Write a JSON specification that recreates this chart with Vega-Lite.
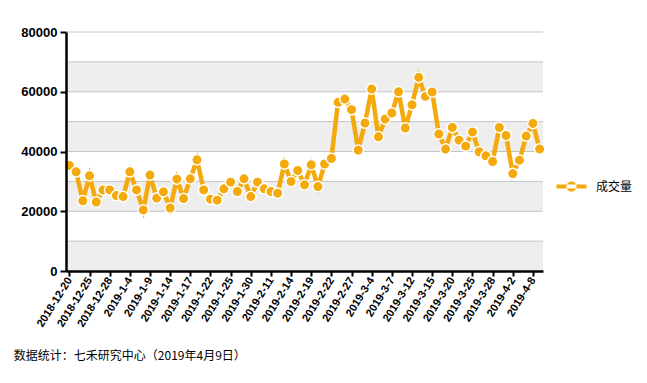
{
  "$schema": "https://vega.github.io/schema/vega-lite/v6.json",
  "width": 477,
  "height": 239,
  "autosize": "none",
  "padding": {"left": 66, "top": 32, "right": 104, "bottom": 112},
  "background": "white",
  "config": {
    "view": {"stroke": null},
    "axis": {"grid": false},
    "font": "Liberation Sans"
  },
  "title": {
    "text": "数据统计：七禾研究中心（2019年4月9日）",
    "orient": "bottom",
    "anchor": "start",
    "frame": "bounds",
    "font": "Noto Sans CJK SC",
    "fontSize": 12,
    "fontWeight": "normal",
    "color": "#000000",
    "offset": 23,
    "dx": -7
  },
  "datasets": {
    "series": [
      {"d": "2018-12-20", "v": 35300}, {"d": "2018-12-21", "v": 33200}, {"d": "2018-12-24", "v": 23500},
      {"d": "2018-12-25", "v": 31850}, {"d": "2018-12-26", "v": 23100}, {"d": "2018-12-27", "v": 27150},
      {"d": "2018-12-28", "v": 27150}, {"d": "2019-1-2", "v": 25250}, {"d": "2019-1-3", "v": 24900},
      {"d": "2019-1-4", "v": 33200}, {"d": "2019-1-7", "v": 27150}, {"d": "2019-1-8", "v": 20450},
      {"d": "2019-1-9", "v": 32100}, {"d": "2019-1-10", "v": 24400}, {"d": "2019-1-11", "v": 26500},
      {"d": "2019-1-14", "v": 21100}, {"d": "2019-1-15", "v": 30750}, {"d": "2019-1-16", "v": 24250},
      {"d": "2019-1-17", "v": 30850}, {"d": "2019-1-18", "v": 37200}, {"d": "2019-1-21", "v": 27150},
      {"d": "2019-1-22", "v": 24050}, {"d": "2019-1-23", "v": 23700}, {"d": "2019-1-24", "v": 27500},
      {"d": "2019-1-25", "v": 29750}, {"d": "2019-1-28", "v": 26600}, {"d": "2019-1-29", "v": 30850},
      {"d": "2019-1-30", "v": 24900}, {"d": "2019-1-31", "v": 29750}, {"d": "2019-2-1", "v": 27500},
      {"d": "2019-2-11", "v": 26600}, {"d": "2019-2-12", "v": 26050}, {"d": "2019-2-13", "v": 35800},
      {"d": "2019-2-14", "v": 29950}, {"d": "2019-2-15", "v": 33650}, {"d": "2019-2-18", "v": 28850},
      {"d": "2019-2-19", "v": 35550}, {"d": "2019-2-20", "v": 28250}, {"d": "2019-2-21", "v": 35800},
      {"d": "2019-2-22", "v": 37650}, {"d": "2019-2-25", "v": 56450}, {"d": "2019-2-26", "v": 57550},
      {"d": "2019-2-27", "v": 54000}, {"d": "2019-2-28", "v": 40450}, {"d": "2019-3-1", "v": 49500},
      {"d": "2019-3-4", "v": 60900}, {"d": "2019-3-5", "v": 44900}, {"d": "2019-3-6", "v": 50850},
      {"d": "2019-3-7", "v": 52900}, {"d": "2019-3-8", "v": 60000}, {"d": "2019-3-11", "v": 47850},
      {"d": "2019-3-12", "v": 55650}, {"d": "2019-3-13", "v": 64800}, {"d": "2019-3-14", "v": 58450},
      {"d": "2019-3-15", "v": 59900}, {"d": "2019-3-18", "v": 45850}, {"d": "2019-3-19", "v": 40800},
      {"d": "2019-3-20", "v": 48050}, {"d": "2019-3-21", "v": 43800}, {"d": "2019-3-22", "v": 41800},
      {"d": "2019-3-25", "v": 46500}, {"d": "2019-3-26", "v": 39900}, {"d": "2019-3-27", "v": 38550},
      {"d": "2019-3-28", "v": 36650}, {"d": "2019-3-29", "v": 48050}, {"d": "2019-4-1", "v": 45350},
      {"d": "2019-4-2", "v": 32600}, {"d": "2019-4-3", "v": 37100}, {"d": "2019-4-4", "v": 45150},
      {"d": "2019-4-8", "v": 49400}, {"d": "2019-4-9", "v": 40800}
    ],
    "bands": [
      {"lo": 0, "hi": 10000}, {"lo": 20000, "hi": 30000},
      {"lo": 40000, "hi": 50000}, {"lo": 60000, "hi": 70000}
    ],
    "grid": [
      {"g": 10000}, {"g": 20000}, {"g": 30000}, {"g": 40000},
      {"g": 50000}, {"g": 60000}, {"g": 70000}, {"g": 80000}
    ]
  },
  "layer": [
    {
      "data": {"name": "bands"},
      "mark": {"type": "rect", "color": "#eeeeee"},
      "encoding": {
        "y": {"field": "lo", "type": "quantitative", "title": null, "scale": {"domain": [0, 80000]}},
        "y2": {"field": "hi"}
      }
    },
    {
      "data": {"name": "grid"},
      "mark": {"type": "rule", "color": "#c4c4c4", "strokeWidth": 1},
      "encoding": {
        "y": {"field": "g", "type": "quantitative", "title": null}
      }
    },
    {
      "data": {"name": "series"},
      "mark": {"type": "line", "strokeWidth": 4.5, "strokeJoin": "miter"},
      "encoding": {
        "x": {
          "field": "d", "type": "ordinal", "sort": null, "title": null,
          "scale": {"paddingInner": 0, "paddingOuter": 0},
          "axis": {
            "values": ["2018-12-20", "2018-12-25", "2018-12-28", "2019-1-4", "2019-1-9", "2019-1-14", "2019-1-17", "2019-1-22", "2019-1-25", "2019-1-30", "2019-2-11", "2019-2-14", "2019-2-19", "2019-2-22", "2019-2-27", "2019-3-4", "2019-3-7", "2019-3-12", "2019-3-15", "2019-3-20", "2019-3-25", "2019-3-28", "2019-4-2", "2019-4-8"],
            "bandPosition": 0,
            "zindex": 1,
            "labelAngle": -58,
            "labelAlign": "right",
            "labelBaseline": "middle",
            "labelFont": "Liberation Sans",
            "labelFontSize": 11,
            "labelFontWeight": "bold",
            "labelColor": "#000000",
            "labelPadding": 2,
            "domainColor": "#000000",
            "domainWidth": 2.5,
            "tickColor": "#000000",
            "tickWidth": 2,
            "tickSize": 5
          }
        },
        "y": {
          "field": "v", "type": "quantitative", "title": null,
          "scale": {"domain": [0, 80000]},
          "axis": {
            "values": [0, 20000, 40000, 60000, 80000],
            "format": "d",
            "zindex": 1,
            "labelFont": "Liberation Sans",
            "labelFontSize": 13,
            "labelFontWeight": "bold",
            "labelColor": "#000000",
            "labelPadding": 3,
            "domainColor": "#000000",
            "domainWidth": 2.5,
            "tickColor": "#000000",
            "tickWidth": 2,
            "tickSize": 6
          }
        },
        "color": {
          "datum": "成交量",
          "scale": {"range": ["#F4A90C"]},
          "legend": {
            "title": null,
            "orient": "none",
            "legendX": 498,
            "legendY": 147,
            "symbolType": "M-2,-0.27H2V0.27H-2Z M-0.67,0A0.67,0.67 0 1,0 0.67,0A0.67,0.67 0 1,0 -0.67,0Z",
            "symbolSize": 225,
            "symbolFillColor": "#F4A90C",
            "symbolStrokeColor": "#F4A90C",
            "symbolStrokeWidth": 0,
            "labelFont": "Noto Sans CJK SC",
            "labelFontSize": 12,
            "labelColor": "#000000",
            "labelOffset": 17
          }
        }
      }
    },
    {
      "data": {"name": "series"},
      "mark": {"type": "point", "filled": true, "size": 110, "stroke": "white", "strokeWidth": 1.5, "opacity": 1},
      "encoding": {
        "x": {"field": "d", "type": "ordinal", "sort": null},
        "y": {"field": "v", "type": "quantitative"},
        "color": {"datum": "成交量"},
        "stroke": {"value": "white"}
      }
    }
  ]
}
